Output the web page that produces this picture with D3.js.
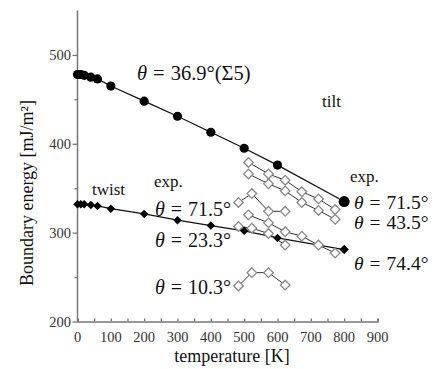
<!DOCTYPE html>
<html lang="en">
<head>
    <meta charset="UTF-8">
    <title>Boundary energy vs temperature</title>
    <script src="https://d3js.org/d3.v7.min.js"></script>
    <style>
        body { margin: 0; background: #fff; }
        text { font-family: "Liberation Serif", "DejaVu Serif", serif; fill: #111; }
    </style>
</head>
<body>
    <div id="chart"></div>

    <script>
        // simulation series (filled markers)
        var simTemps = [0, 10, 20, 40, 60, 100, 200, 300, 400, 500, 600, 800];
        var tiltEnergy = [478, 478, 477, 475, 473, 465, 448, 431, 413, 395, 376, 335];
        var twistEnergy = [332, 332, 332, 331, 330, 327, 321, 314, 308, 302, 294, 281];

        // experimental series (open diamonds)
        var expTempsLong = [513, 573, 623, 673, 723, 773];
        var expTiltA = [379, 366, 359, 346, 338, 326];
        var expTiltB = [366, 355, 347, 334, 325, 315];
        var expTwist = [320, 311, 301, 296, 286, 277];
        var expTempsShort = [483, 523, 573, 623];
        var exp715 = [334, 344, 324, 324];
        var exp233 = [307, 305, 299, 286];
        var exp103 = [240, 255, 255, 241];

        var xTicks = [0, 100, 200, 300, 400, 500, 600, 700, 800, 900];
        var yTicks = [200, 300, 400, 500];

        var width = 442, height = 369;

        var x = d3.scaleLinear().domain([0, 900]).range([77.5, 377.5]);
        var y = d3.scaleLinear().domain([200, 550]).range([321.5, 10.5]);

        var svg = d3.select('#chart').append('svg')
            .attr('width', width)
            .attr('height', height);

        // axes
        var xAxis = svg.append('g')
            .attr('transform', 'translate(0,' + y(200) + ')')
            .call(d3.axisBottom(x).tickValues(d3.range(0, 901, 50)).tickSize(-3).tickFormat(''));
        var yAxis = svg.append('g')
            .attr('transform', 'translate(' + x(0) + ',0)')
            .call(d3.axisLeft(y).tickValues(yTicks).tickSize(5).tickFormat(''));
        svg.append('g')
            .attr('transform', 'translate(' + x(0) + ',0)')
            .call(d3.axisLeft(y).tickValues([250, 350, 450]).tickSize(3).tickFormat(''))
            .select('.domain').remove();
        svg.selectAll('.domain').attr('stroke', '#777').attr('stroke-width', 1.5);
        svg.selectAll('.tick line').attr('stroke', '#777').attr('stroke-width', 1.3);
        yAxis.select('.domain').attr('d', 'M0,' + y(200) + 'V' + y(550));

        svg.selectAll('.xlab').data(xTicks).enter().append('text')
            .attr('x', d => x(d)).attr('y', 342)
            .attr('text-anchor', 'middle')
            .style('font-size', '14.5px').style('fill', '#333')
            .text(d => d);
        svg.selectAll('.ylab').data(yTicks).enter().append('text')
            .attr('x', 71).attr('y', d => y(d) + 5)
            .attr('text-anchor', 'end')
            .style('font-size', '14.5px').style('fill', '#333')
            .text(d => d);

        svg.append('text')
            .attr('x', 232).attr('y', 362)
            .attr('text-anchor', 'middle')
            .style('font-size', '18px')
            .text('temperature [K]');
        svg.append('text')
            .attr('transform', 'translate(33,193) rotate(-90)')
            .attr('text-anchor', 'middle')
            .style('font-size', '18px')
            .text('Boundary energy [mJ/m\u00b2]');

        var line = d3.line().x(d => x(d[0])).y(d => y(d[1]));
        var zip = (a, b) => a.map((t, i) => [t, b[i]]);

        // experimental lines and open diamonds
        var expSets = [
            zip(expTempsLong, expTiltA), zip(expTempsLong, expTiltB), zip(expTempsLong, expTwist),
            zip(expTempsShort, exp715), zip(expTempsShort, exp233), zip(expTempsShort, exp103)
        ];
        expSets.forEach(function (s) {
            svg.append('path').attr('d', line(s))
                .attr('fill', 'none').attr('stroke', '#333').attr('stroke-width', 1);
        });

        // simulation lines
        svg.append('path').attr('d', line(zip(simTemps, tiltEnergy)))
            .attr('fill', 'none').attr('stroke', '#111').attr('stroke-width', 1.3);
        svg.append('path').attr('d', line(zip(simTemps, twistEnergy)))
            .attr('fill', 'none').attr('stroke', '#111').attr('stroke-width', 1.3);

        var diamond = d3.symbol().type(d3.symbolSquare);
        expSets.forEach(function (s) {
            svg.selectAll(null).data(s).enter().append('path')
                .attr('d', diamond.size(46)())
                .attr('transform', d => 'translate(' + x(d[0]) + ',' + y(d[1]) + ') rotate(45)')
                .attr('fill', '#fff').attr('stroke', '#888').attr('stroke-width', 1.3);
        });

        svg.selectAll('.tilt').data(zip(simTemps, tiltEnergy)).enter().append('circle')
            .attr('cx', d => x(d[0])).attr('cy', d => y(d[1]))
            .attr('r', (d, i) => i == simTemps.length - 1 ? 5.5 : 4.6)
            .attr('fill', '#000');
        svg.selectAll('.twist').data(zip(simTemps, twistEnergy)).enter().append('path')
            .attr('d', (d, i) => diamond.size(i == simTemps.length - 1 ? 44 : 36)())
            .attr('transform', d => 'translate(' + x(d[0]) + ',' + y(d[1]) + ') rotate(45)')
            .attr('fill', '#000');

        // annotations
        var labels = [
            ['\u03b8 = 36.9\u00b0(\u03a35)', 137, 80, 20.5],
            ['tilt', 322, 107, 17],
            ['exp.', 350, 182, 17],
            ['twist', 92, 195, 17],
            ['exp.', 154, 187, 17],
            ['\u03b8 = 71.5\u00b0', 155, 216, 20],
            ['\u03b8 = 23.3\u00b0', 155, 247, 20],
            ['\u03b8 = 10.3\u00b0', 155, 294, 20],
            ['\u03b8 = 71.5\u00b0', 354, 209, 19.5],
            ['\u03b8 = 43.5\u00b0', 354, 229, 19.5],
            ['\u03b8 = 74.4\u00b0', 354, 270, 19.5]
        ];
        labels.forEach(function (l) {
            var t = svg.append('text').attr('x', l[1]).attr('y', l[2]).style('font-size', l[3] + 'px');
            if (l[0].charAt(0) == '\u03b8') {
                var rest = l[0].split(' = ');
                t.append('tspan').style('font-style', 'italic').text('\u03b8');
                t.append('tspan').attr('dx', 6).text('=');
                t.append('tspan').attr('dx', 6).text(rest[1]);
            } else {
                t.text(l[0]);
            }
        });
    </script>
</body>
</html>
